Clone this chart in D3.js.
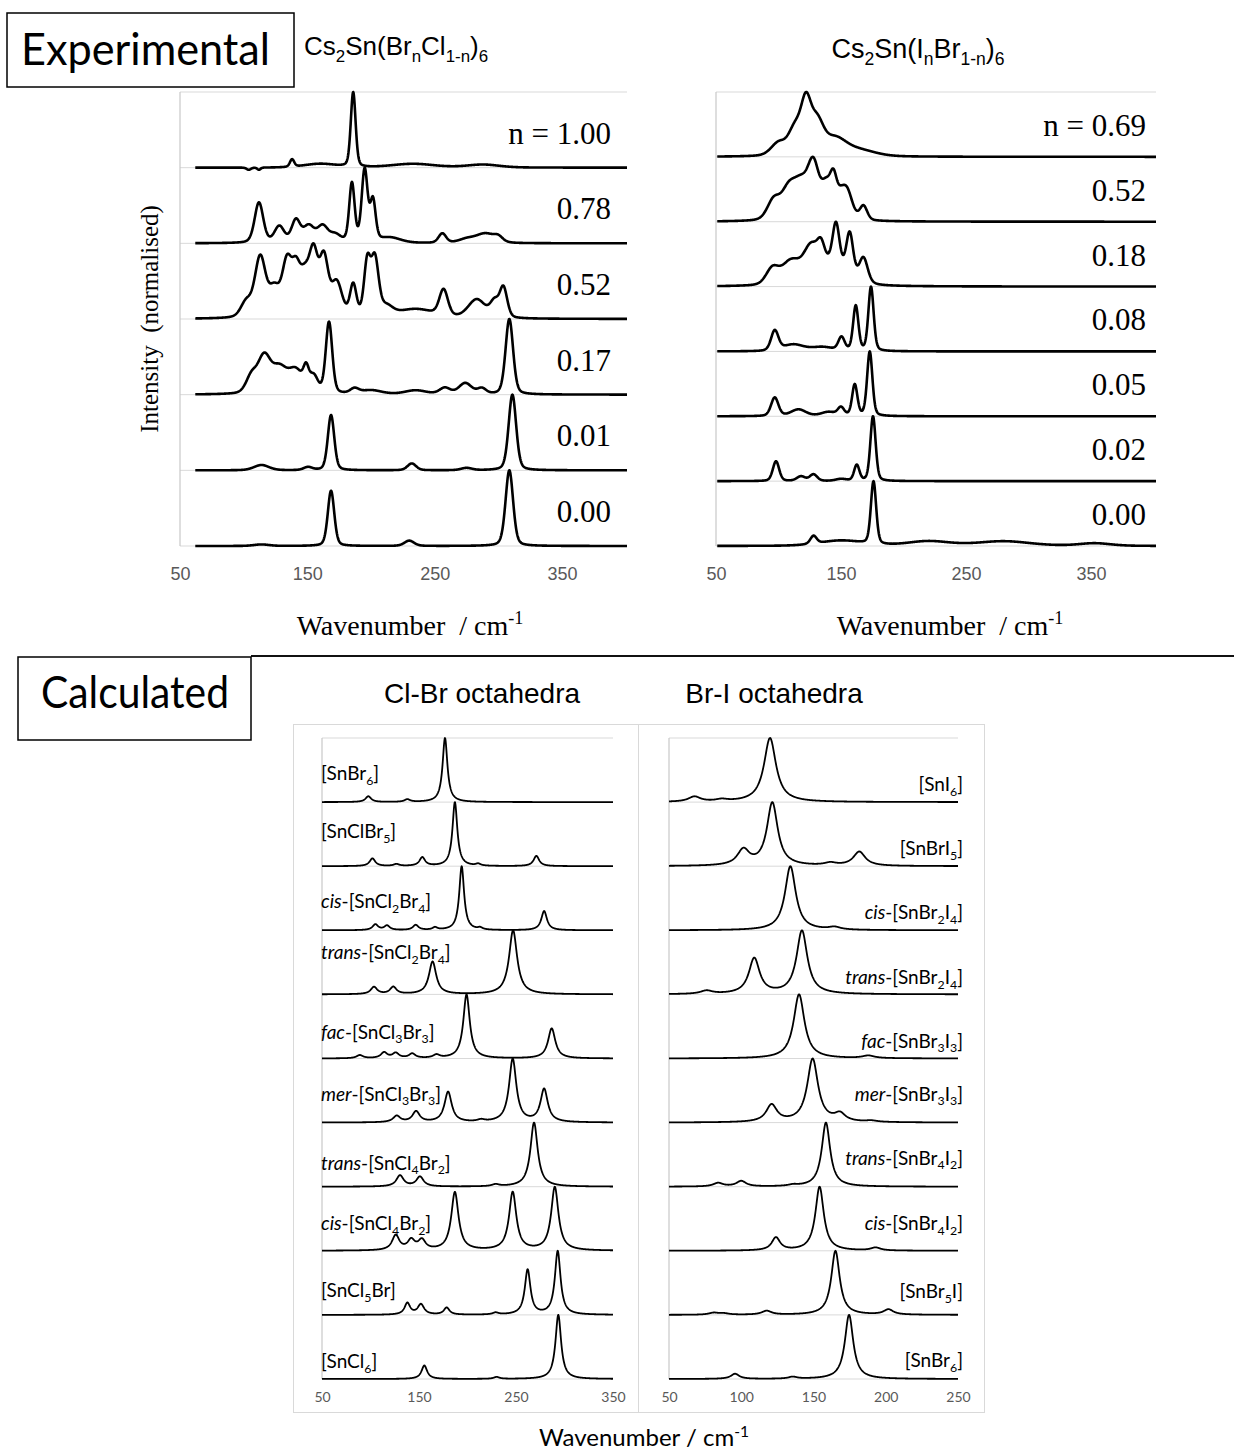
<!DOCTYPE html>
<html>
<head>
<meta charset="utf-8">
<script src="https://cdn.jsdelivr.net/npm/d3@7"></script>
<style>
body { margin: 0; background: #fff; }
svg { display: block; }
</style>
</head>
<body>
<script>
// ---------- data ----------
// every band is [wavenumber / cm-1, relative height, fwhm / cm-1]

// experimental, Cs2Sn(BrnCl1-n)6, top row first
var clBrRowLabels = ["n = 1.00", "0.78", "0.52", "0.17", "0.01", "0.00"];
var clBr100 = [[104,-0.03,4],[112,-0.03,3],[138,0.1,4],[160,0.05,30],[186,1.0,4.5],[233,0.05,40],[288,0.04,30]];
var clBr078 = [[112,0.55,8],[128,0.22,9],[141,0.3,8],[151,0.22,10],[162,0.22,10],[172,0.1,10],[185,0.8,5],[195,0.98,5.5],[201.5,0.55,5],[215,0.07,20],[256,0.13,7],[275,0.05,15],[290,0.13,18],[300,0.06,8]];
var clBr052 = [[102,0.2,10],[113,0.8,10],[124,0.35,10],[134,0.7,9],[141,0.5,8],[148,0.5,10],[155,0.75,8],[163,0.75,8],[173,0.45,10],[186,0.42,6],[197,0.7,6],[203,0.75,7],[212,0.12,12],[235,0.12,35],[257,0.35,8],[283,0.25,16],[297,0.2,8],[304,0.4,7]];
var clBr017 = [[106,0.2,10],[116,0.45,12],[128,0.3,14],[141,0.28,14],[149,0.22,5],[155,0.2,8],[167,0.9,6],[187,0.06,8],[200,0.05,20],[235,0.05,20],[258,0.08,10],[274,0.14,12],[287,0.07,8],[308.6,0.95,7]];
var clBr001 = [[114,0.07,14],[150.5,0.04,8],[168.6,0.73,6],[232,0.09,8],[275,0.03,10],[311,1.0,7]];
var clBr000 = [[114,0.02,14],[168.6,0.73,6],[230,0.07,9],[308.6,1.0,7]];

// experimental, Cs2Sn(InBr1-n)6, top row first
var iBrRowLabels = ["n = 0.69", "0.52", "0.18", "0.08", "0.05", "0.02", "0.00"];
var iBr069 = [[100,0.15,14],[113,0.3,12],[122,0.6,10],[131,0.35,12],[145,0.2,22],[165,0.07,30]];
var iBr052 = [[96,0.2,12],[108,0.3,14],[118,0.33,14],[128,0.55,11],[138,0.3,9],[144,0.38,7],[150,0.15,8],[155,0.28,10],[168,0.15,7]];
var iBr018 = [[95,0.22,12],[110,0.33,18],[126,0.42,14],[134,0.25,7],[142,0.3,30],[146,0.6,6.5],[157,0.6,6.5],[168,0.35,8]];
var iBr008 = [[97,0.3,7],[112,0.1,20],[135,0.06,20],[150.4,0.2,6],[161.8,0.68,5],[174,0.97,5]];
var iBr005 = [[97,0.28,7],[116,0.1,14],[140,0.06,14],[150,0.12,6],[161,0.47,5],[173,0.97,5]];
var iBr002 = [[98,0.3,6],[118,0.07,8],[128,0.1,7],[150,0.03,10],[162.6,0.24,5],[175.6,0.98,5]];
var iBr000 = [[128,0.12,6],[150,0.08,40],[176,0.95,5],[220,0.07,40],[280,0.07,50],[353,0.04,30]];

// calculated, Cl-Br octahedra, top row first: [italic prefix, formula]
var clBrNames = [["","[SnBr6]"],["","[SnClBr5]"],["cis","[SnCl2Br4]"],["trans","[SnCl2Br4]"],["fac","[SnCl3Br3]"],
                 ["mer","[SnCl3Br3]"],["trans","[SnCl4Br2]"],["cis","[SnCl4Br2]"],["","[SnCl5Br]"],["","[SnCl6]"]];
var calcSnBr6   = [[97.8,0.09,7],[138,0.04,7],[176.8,1.0,6]];
var calcSnClBr5 = [[102,0.12,7],[126.7,0.03,7],[153.4,0.135,7],[187,1.0,6],[211,0.03,6],[271,0.16,7]];
var calcCisCl2  = [[105,0.09,7],[117,0.07,7],[146.6,0.08,7],[166.5,0.04,6],[194,1.0,6],[213,0.03,6],[279,0.3,7]];
var calcTransCl2= [[103.6,0.11,8],[123.5,0.11,8],[164,0.5,9],[247,0.98,10]];
var calcFacCl3  = [[89,0.05,8],[114,0.09,8],[126,0.08,8],[143,0.07,8],[168,0.05,8],[199,1.0,8],[286.8,0.47,9]];
var calcMerCl3  = [[127,0.1,9],[147,0.17,9],[180,0.48,9],[214,0.03,9],[246.6,1.0,9],[279,0.52,9]];
var calcTransCl4= [[130.4,0.17,9],[151,0.15,9],[229,0.03,9],[268.6,0.98,9]];
var calcCisCl4  = [[126,0.23,9],[142,0.15,9],[153,0.15,9],[187,0.9,9],[246.6,0.9,9],[290,0.98,9]];
var calcSnCl5Br = [[138,0.18,7],[152,0.16,8],[178.5,0.11,7],[229,0.03,7],[262,0.7,7],[293,0.99,7]];
var calcSnCl6   = [[155.5,0.21,7],[230,0.03,7],[293.6,1.0,7]];

// calculated, Br-I octahedra, top row first
var brINames = [["","[SnI6]"],["","[SnBrI5]"],["cis","[SnBr2I4]"],["trans","[SnBr2I4]"],["fac","[SnBr3I3]"],
                ["mer","[SnBr3I3]"],["trans","[SnBr4I2]"],["cis","[SnBr4I2]"],["","[SnBr5I]"],["","[SnBr6]"]];
var calcSnI6    = [[67.6,0.08,10],[86.5,0.03,10],[119.9,1.0,10]];
var calcSnBrI5  = [[101.5,0.24,10],[121.5,0.98,9],[161.7,0.04,10],[181.7,0.22,10]];
var calcCisBr2  = [[134,1.0,9],[164.5,0.04,10]];
var calcTransBr2= [[76,0.05,10],[109,0.55,9],[142,0.98,9]];
var calcFacBr3  = [[140,1.0,9],[188,0.04,10]];
var calcMerBr3  = [[121,0.27,9],[149.4,1.0,9],[168.3,0.12,9],[190,0.02,10]];
var calcTransBr4= [[84,0.055,8],[100,0.085,8],[136,0.02,8],[158.6,0.99,7]];
var calcCisBr4  = [[124,0.2,7],[154.2,0.99,7],[193,0.045,8]];
var calcSnBr5I  = [[81,0.03,8],[88,0.02,8],[117.6,0.06,8],[165.2,0.99,7],[201.9,0.08,8]];
var calcSnBr6b  = [[95.7,0.08,7],[135.6,0.03,7],[174.6,1.0,7]];

var expTicks = [50, 150, 250, 350];
var clBrCalcTicks = [50, 150, 250, 350];
var brICalcTicks = [50, 100, 150, 200, 250];

// ---------- layout ----------
var W = 1234, H = 1452;
var serif = "'Liberation Serif', 'Times New Roman', serif";
var arial = "'Liberation Sans', Arial, sans-serif";
var cal = "Lato, 'Open Sans', sans-serif";
var gridColor = "#d9d9d9", tickColor = "#595959";

var svg = d3.select("body").append("svg").attr("width", W).attr("height", H);

// summed band profile, scaled so the strongest point is 1
function profile(bands, from, to, eta) {
	var pts = [];
	for (var w = from; w <= to + 1e-9; w += 0.25) {
		var s = 0;
		bands.forEach(function(b){
			var u = (w - b[0]) / b[2];
			s += b[1] * (eta / (1 + 4*u*u) + (1 - eta) * Math.exp(-4*Math.LN2*u*u));
		});
		pts.push([w, s]);
	}
	var m = d3.max(pts, function(p){ return p[1]; });
	pts.forEach(function(p){ p[1] = p[1] / m; });
	return pts;
}

// text made of runs: "" normal, "sub", "sup", "i" italic
function rich(sel, parts, fs) {
	var off = 0;
	parts.forEach(function(p){
		var mode = p[1] || "";
		var target = mode == "sub" ? fs*0.25 : (mode == "sup" ? -fs*0.38 : 0);
		var ts = sel.append("tspan").attr("dy", target - off).text(p[0]);
		if (mode == "sub" || mode == "sup") ts.attr("font-size", fs*0.65);
		if (mode == "i") ts.attr("font-style", "italic");
		off = target;
	});
	return sel;
}

function formulaParts(name) {
	var parts = [];
	if (name[0]) { parts.push([name[0], "i"]); parts.push(["-", ""]); }
	name[1].split(/(\d+)/).forEach(function(s, i){
		if (s) parts.push([s, i % 2 ? "sub" : ""]);
	});
	return parts;
}

function stackPanel(o) {
	var x = d3.scaleLinear().domain(o.xDomain).range(o.xRange);
	var n = o.rows.length;
	var y = d3.scaleLinear().domain([0, n]).range([o.bottom, o.top]);
	var g = svg.append("g");

	g.selectAll("line.grid").data(d3.range(0, n + 1)).join("line")
		.attr("class", "grid")
		.attr("x1", o.xRange[0]).attr("x2", o.xRange[1])
		.attr("y1", function(d){ return y(d); }).attr("y2", function(d){ return y(d); })
		.attr("stroke", gridColor).attr("stroke-width", 1);
	g.append("line")
		.attr("x1", o.xRange[0]).attr("x2", o.xRange[0])
		.attr("y1", o.top).attr("y2", o.bottom)
		.attr("stroke", "#c8c8c8").attr("stroke-width", 1.2);

	var line = d3.line()
		.x(function(d){ return x(d[0]); })
		.y(function(d){ return y(d[1]); });

	o.rows.forEach(function(bands, i){
		var offset = n - 1 - i;
		var pts = profile(bands, o.from, o.to, o.eta).map(function(p){ return [p[0], offset + p[1]]; });
		g.append("path").attr("d", line(pts))
			.attr("fill", "none").attr("stroke", "#000")
			.attr("stroke-width", o.lineWidth)
			.attr("stroke-linejoin", "round");
	});

	var axis = d3.axisBottom(x).tickValues(o.ticks).tickSize(0).tickPadding(o.tickPad);
	var ag = g.append("g").attr("transform", "translate(0," + o.bottom + ")").call(axis);
	ag.select(".domain").remove();
	ag.selectAll("text").attr("fill", tickColor)
		.style("font-family", o.tickFont).style("font-size", o.tickSize + "px");

	return {x: x, y: y, g: g};
}

// ----- top: experimental -----
svg.append("rect").attr("x", 7).attr("y", 13).attr("width", 287).attr("height", 74)
	.attr("fill", "none").attr("stroke", "#000").attr("stroke-width", 1.5);
svg.append("text").attr("x", 21).attr("y", 65)
	.style("font-family", cal).style("font-size", "45px")
	.attr("textLength", 249).attr("lengthAdjust", "spacingAndGlyphs")
	.text("Experimental");

var p1 = stackPanel({
	rows: [clBr100, clBr078, clBr052, clBr017, clBr001, clBr000],
	xDomain: [50, 401], xRange: [180, 627], top: 92, bottom: 546,
	from: 62, to: 401, eta: 0.3, lineWidth: 2.6,
	ticks: expTicks, tickPad: 21, tickFont: arial, tickSize: 18
});
var p2 = stackPanel({
	rows: [iBr069, iBr052, iBr018, iBr008, iBr005, iBr002, iBr000],
	xDomain: [50, 402], xRange: [716, 1156], top: 92, bottom: 546,
	from: 51, to: 402, eta: 0.3, lineWidth: 2.6,
	ticks: expTicks, tickPad: 21, tickFont: arial, tickSize: 18
});

clBrRowLabels.forEach(function(t, i){
	svg.append("text").attr("x", 611).attr("y", p1.y(clBrRowLabels.length - 1 - i) - 24)
		.attr("text-anchor", "end").style("font-family", serif).style("font-size", "31px")
		.style("white-space", "pre").text(t);
});
iBrRowLabels.forEach(function(t, i){
	svg.append("text").attr("x", 1146).attr("y", p2.y(iBrRowLabels.length - 1 - i) - 21)
		.attr("text-anchor", "end").style("font-family", serif).style("font-size", "31px")
		.style("white-space", "pre").text(t);
});

rich(svg.append("text").attr("x", 304).attr("y", 55)
	.style("font-family", arial).style("font-size", "26px"),
	[["Cs",""],["2","sub"],["Sn(Br",""],["n","sub"],["Cl",""],["1-n","sub"],[")",""],["6","sub"]], 26);
rich(svg.append("text").attr("x", 918).attr("y", 58).attr("text-anchor", "middle")
	.style("font-family", arial).style("font-size", "27px"),
	[["Cs",""],["2","sub"],["Sn(I",""],["n","sub"],["Br",""],["1-n","sub"],[")",""],["6","sub"]], 27);

svg.append("text").attr("transform", "translate(158,319) rotate(-90)")
	.attr("text-anchor", "middle").style("font-family", serif).style("font-size", "25px")
	.style("white-space", "pre").text("Intensity  (normalised)");

[410, 950].forEach(function(cx){
	rich(svg.append("text").attr("x", cx).attr("y", 635).attr("text-anchor", "middle")
		.style("font-family", serif).style("font-size", "28px").style("white-space", "pre"),
		[["Wavenumber  / cm",""],["-1","sup"]], 28);
});

// separator
svg.append("line").attr("x1", 251).attr("x2", W).attr("y1", 656).attr("y2", 656)
	.attr("stroke", "#111").attr("stroke-width", 2);

// ----- bottom: calculated -----
svg.append("rect").attr("x", 18).attr("y", 657).attr("width", 233).attr("height", 83)
	.attr("fill", "#fff").attr("stroke", "#000").attr("stroke-width", 1.5);
svg.append("text").attr("x", 41).attr("y", 708)
	.style("font-family", cal).style("font-size", "45px")
	.attr("textLength", 188).attr("lengthAdjust", "spacingAndGlyphs")
	.text("Calculated");

svg.append("text").attr("x", 482).attr("y", 703).attr("text-anchor", "middle")
	.style("font-family", arial).style("font-size", "28px").text("Cl-Br octahedra");
svg.append("text").attr("x", 774).attr("y", 703).attr("text-anchor", "middle")
	.style("font-family", arial).style("font-size", "28px").text("Br-I octahedra");

svg.append("rect").attr("x", 293.5).attr("y", 724.5).attr("width", 345).attr("height", 688)
	.attr("fill", "none").attr("stroke", gridColor);
svg.append("rect").attr("x", 638.5).attr("y", 724.5).attr("width", 346).attr("height", 688)
	.attr("fill", "none").attr("stroke", gridColor);

var p3 = stackPanel({
	rows: [calcSnBr6, calcSnClBr5, calcCisCl2, calcTransCl2, calcFacCl3, calcMerCl3, calcTransCl4, calcCisCl4, calcSnCl5Br, calcSnCl6],
	xDomain: [50, 350], xRange: [322, 613], top: 738, bottom: 1379,
	from: 50, to: 350, eta: 1, lineWidth: 1.8,
	ticks: clBrCalcTicks, tickPad: 13, tickFont: cal, tickSize: 14
});
var p4 = stackPanel({
	rows: [calcSnI6, calcSnBrI5, calcCisBr2, calcTransBr2, calcFacBr3, calcMerBr3, calcTransBr4, calcCisBr4, calcSnBr5I, calcSnBr6b],
	xDomain: [50, 250], xRange: [669, 958], top: 738, bottom: 1379,
	from: 50, to: 250, eta: 1, lineWidth: 1.8,
	ticks: brICalcTicks, tickPad: 13, tickFont: cal, tickSize: 14
});

var clBrLift = [22, 28, 22, 35, 20, 22, 17, 21, 18, 11];
var brILift = [11, 11, 11, 10, 11, 22, 22, 21, 17, 12];

clBrNames.forEach(function(nm, i){
	rich(svg.append("text").attr("x", 321).attr("y", p3.y(clBrNames.length - 1 - i) - clBrLift[i])
		.style("font-family", cal).style("font-size", "19px"), formulaParts(nm), 19);
});
brINames.forEach(function(nm, i){
	rich(svg.append("text").attr("x", 963).attr("y", p4.y(brINames.length - 1 - i) - brILift[i])
		.attr("text-anchor", "end")
		.style("font-family", cal).style("font-size", "19px"), formulaParts(nm), 19);
});

rich(svg.append("text").attr("x", 644).attr("y", 1446).attr("text-anchor", "middle")
	.style("font-family", cal).style("font-size", "24px"),
	[["Wavenumber / cm",""],["-1","sup"]], 24);
</script>
</body>
</html>
